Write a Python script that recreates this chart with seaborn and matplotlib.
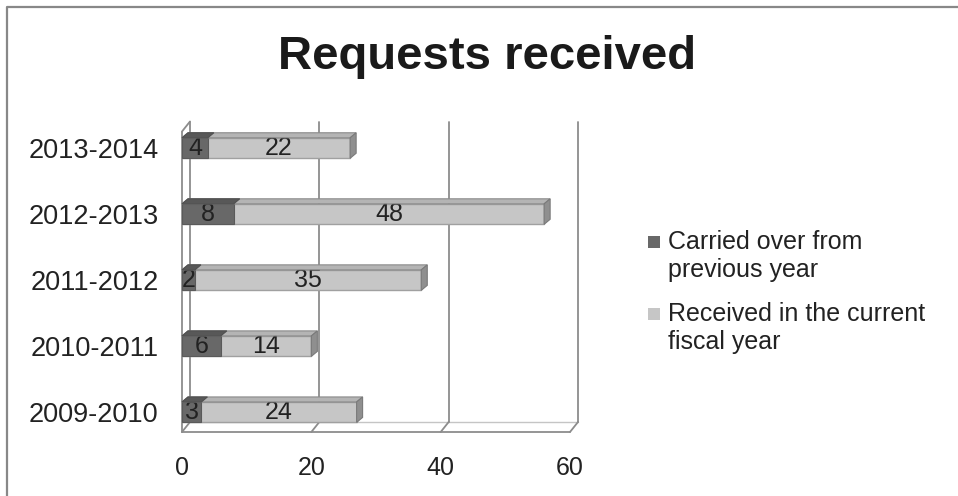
import matplotlib
matplotlib.use("Agg")
import matplotlib.pyplot as plt
from matplotlib.patches import Rectangle, Polygon
from matplotlib.lines import Line2D
from matplotlib.transforms import offset_copy
import seaborn as sns
import pandas as pd

years = ["2013-2014", "2012-2013", "2011-2012", "2010-2011", "2009-2010"]
carried_over = [4, 8, 2, 6, 3]
received_current = [22, 48, 35, 14, 24]
series_names = ["Carried over from\nprevious year", "Received in the current\nfiscal year"]
x_ticks = [0, 20, 40, 60]

DARK = "#686868"
LIGHT = "#c6c6c6"
GRID = "#8c8c8c"
TEXT = "#222222"

sns.set_theme(style="white")
plt.rcParams["font.family"] = ["Liberation Sans", "DejaVu Sans"]

df = pd.DataFrame({
    "year": years,
    "carried": carried_over,
    "received": received_current,
})
df["total"] = df["carried"] + df["received"]

fig = plt.figure(figsize=(9.58, 4.96), dpi=100)
ax = fig.add_axes([182 / 958, 1 - 432 / 496, 388 / 958, (432 - 131.5) / 496])

# stacked horizontal bars: total in light grey, carried-over part over it in dark grey
sns.barplot(data=df, y="year", x="total", order=years, color=LIGHT, width=0.31,
            edgecolor="#a0a0a0", linewidth=1.0, saturation=1, ax=ax, zorder=3)
n_light = len(ax.patches)
sns.barplot(data=df, y="year", x="carried", order=years, color=DARK, width=0.31,
            edgecolor="#5a5a5a", linewidth=0.8, saturation=1, ax=ax, zorder=4)

ax.set_xlim(0, 60)
ax.set_ylim(4.3, -0.25)
ax.set_xlabel("")
ax.set_ylabel("")
for s in ax.spines.values():
    s.set_visible(False)

# back-wall gridlines, shifted for a slight depth effect
DX, DY = 8, 10
px_per_x = 388 / 60
px_per_y = 66
back = offset_copy(ax.transData, fig=fig, x=DX, y=DY, units="dots")
for xv in x_ticks:
    ax.plot([xv, xv], [-0.25, 4.3], color=GRID, lw=1.3, transform=back,
            clip_on=False, zorder=1)
    ax.plot([xv, xv + DX / px_per_x], [4.3, 4.3 - DY / px_per_y], color=GRID,
            lw=1.3, clip_on=False, zorder=1)
ax.plot([0, 60], [4.3, 4.3], color=GRID, lw=1.0, transform=back, clip_on=False,
        zorder=1, alpha=0.5)
# floor front edge and left wall front edge
ax.plot([0, 60], [4.3, 4.3], color=GRID, lw=1.3, clip_on=False, zorder=2)
ax.plot([0, 0], [-0.25, 4.3], color=GRID, lw=1.3, clip_on=False, zorder=2)
ax.plot([0, DX / px_per_x], [-0.25, -0.25 - DY / px_per_y], color=GRID, lw=1.3,
        clip_on=False, zorder=2)

# bevelled top and end faces of each bar
fig.canvas.draw()
bx, by = 6, 5
for k, p in enumerate(ax.patches):
    x0, y0, w, h = p.get_x(), p.get_y(), p.get_width(), p.get_height()
    if w <= 0:
        continue
    (ax0, ay0), (ax1, ay1) = ax.transData.transform([(x0, y0), (x0 + w, y0 + h)])
    top = max(ay0, ay1)
    bot = min(ay0, ay1)
    light = k < n_light
    face = "#b4b4b4" if light else "#585858"
    top_poly = Polygon([(ax0, top), (ax1, top), (ax1 + bx, top + by), (ax0 + bx, top + by)],
                       closed=True, transform=None, facecolor=face,
                       edgecolor="#8a8a8a" if light else "#505050", lw=0.8,
                       zorder=3.5 if light else 4.5)
    fig.add_artist(top_poly)
    if light:
        end_poly = Polygon([(ax1, bot), (ax1, top), (ax1 + bx, top + by), (ax1 + bx, bot + by)],
                           closed=True, transform=None, facecolor="#8f8f8f",
                           edgecolor="#7a7a7a", lw=0.8, zorder=3.5)
        fig.add_artist(end_poly)

# value labels centred in each segment
for i, (c, r) in enumerate(zip(carried_over, received_current)):
    ax.text(c / 2, i, str(c), ha="center", va="center", fontsize=18,
            color=TEXT, zorder=6)
    ax.text(c + r / 2, i, str(r), ha="center", va="center", fontsize=18,
            color=TEXT, zorder=6)

ax.set_xticks(x_ticks)
ax.set_xticklabels([str(v) for v in x_ticks])
ax.tick_params(axis="x", length=0, pad=17, labelsize=18, labelcolor=TEXT)
ax.tick_params(axis="y", length=0, pad=17, labelsize=19.5, labelcolor=TEXT)

fig.text(487 / 958, 1 - 57 / 496, "Requests received", ha="center", va="center",
         fontsize=34, fontweight="bold", color="#1a1a1a")

# legend: square swatch aligned with the first line of each entry
H = 496
for j, (name, col) in enumerate(zip(series_names, [DARK, LIGHT])):
    base = 249 + j * 72
    fig.patches.append(Rectangle((648 / 958, 1 - (base - 1) / H), 12 / 958, 12 / H,
                                 transform=fig.transFigure, facecolor=col,
                                 edgecolor="none"))
    for m, line in enumerate(name.split("\n")):
        fig.text(668 / 958, 1 - (base + 28 * m) / H, line, ha="left",
                 va="baseline", fontsize=18, color=TEXT)

# chart-area frame (top and left edges)
fig.add_artist(Line2D([7 / 958, 7 / 958, 1], [0, 1 - 7 / H, 1 - 7 / H],
                      transform=fig.transFigure, color="#888888", lw=1.6))

fig.savefig("out.png", dpi=100)
